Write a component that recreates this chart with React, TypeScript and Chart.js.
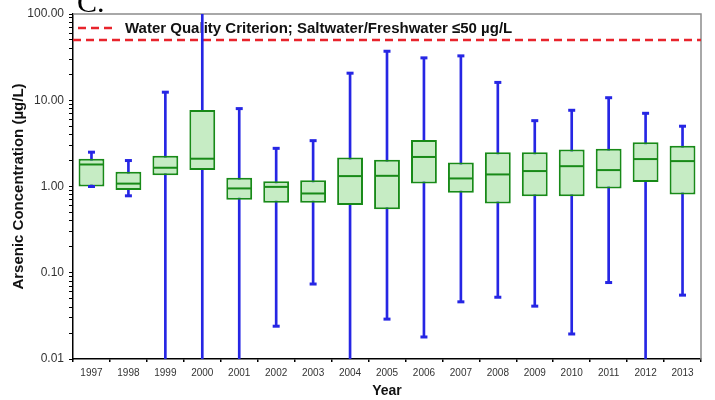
import React, { useEffect, useRef } from 'react';
import { Chart, registerables } from 'chart.js';

Chart.register(...registerables);

// ---- data ----
const years = ['1997', '1998', '1999', '2000', '2001', '2002', '2003', '2004', '2005', '2006', '2007', '2008', '2009', '2010', '2011', '2012', '2013'];
// 0.001 = whisker continues below the axis; 200 = whisker continues above the axis
const whiskerLow = [1.0, 0.78, 0.001, 0.001, 0.001, 0.024, 0.074, 0.001, 0.029, 0.018, 0.046, 0.052, 0.041, 0.0195, 0.077, 0.001, 0.055];
const quartile1 = [1.0, 0.91, 1.35, 1.55, 0.7, 0.65, 0.65, 0.61, 0.545, 1.08, 0.845, 0.634, 0.77, 0.77, 0.95, 1.13, 0.81];
const medians = [1.8, 1.08, 1.65, 2.1, 0.95, 0.99, 0.83, 1.32, 1.33, 2.2, 1.24, 1.38, 1.51, 1.72, 1.55, 2.08, 1.97];
const quartile3 = [2.1, 1.48, 2.27, 7.7, 1.26, 1.15, 1.18, 2.17, 2.04, 3.46, 1.9, 2.49, 2.49, 2.69, 2.74, 3.25, 2.97];
const whiskerHigh = [2.5, 2.0, 12.4, 200, 8.0, 2.77, 3.4, 20.6, 37, 31, 32.7, 16.1, 5.8, 7.65, 10.7, 7.06, 5.0];

const criterionValue = 50;
const criterionLabel = 'Water Quality Criterion; Saltwater/Freshwater ≤50 µg/L';
const yMin = 0.01;
const yMax = 100;
const yMajorTicks = [0.01, 0.1, 1, 10, 100];
const yMinorSteps = [2, 3, 4, 5, 6, 7, 8, 9];
const yTitle = 'Arsenic Concentration (µg/L)';
const xTitle = 'Year';
const panelLabel = 'C.';

// ---- styles ----
const WHISKER = 'rgb(38, 38, 228)';
const BOX_FILL = 'rgb(198, 236, 196)';
const BOX_LINE = 'rgb(24, 138, 24)';
const RED = 'rgb(232, 36, 44)';
const FONT = '"Liberation Sans", Arial, Helvetica, sans-serif';

const lowCaps = whiskerLow.map((v) => (v >= yMin && v <= yMax ? v : null));
const highCaps = whiskerHigh.map((v) => (v >= yMin && v <= yMax ? v : null));

const framePlugin = {
  id: 'frameAndLegend',
  beforeDatasetsDraw(chart: any) {
    const { ctx, chartArea: a } = chart;
    ctx.save();
    // top and right frame
    ctx.strokeStyle = '#8c8c8c';
    ctx.lineWidth = 1.5;
    ctx.beginPath();
    ctx.moveTo(a.left, a.top);
    ctx.lineTo(a.right, a.top);
    ctx.lineTo(a.right, a.bottom);
    ctx.stroke();

    // legend inside the plot area
    const ds = chart.data.datasets.find((d: any) => d.label === criterionLabel);
    const ly = a.top + 14;
    ctx.strokeStyle = ds.borderColor;
    ctx.lineWidth = ds.borderWidth;
    ctx.setLineDash(ds.borderDash);
    ctx.beginPath();
    ctx.moveTo(a.left + 5, ly);
    ctx.lineTo(a.left + 44, ly);
    ctx.stroke();
    ctx.setLineDash([]);
    ctx.fillStyle = '#111';
    ctx.font = `bold 15px ${FONT}`;
    ctx.textBaseline = 'middle';
    ctx.textAlign = 'left';
    ctx.fillText(ds.label, a.left + 52, ly + 0.5);
    ctx.restore();
  },
  afterDraw(chart: any) {
    const { ctx } = chart;
    ctx.save();
    ctx.fillStyle = '#000';
    ctx.font = '30px "Liberation Serif", "Times New Roman", serif';
    ctx.textBaseline = 'alphabetic';
    ctx.textAlign = 'left';
    ctx.fillText(panelLabel, 77, 12);
    ctx.restore();
  },
};

export default function App() {
  const ref = useRef<HTMLCanvasElement>(null);

  useEffect(() => {
    const canvas = ref.current;
    if (!canvas) return;
    Chart.defaults.font.family = FONT;

    const chart = new Chart(canvas, {
      type: 'bar',
      data: {
        labels: years,
        datasets: [
          {
            type: 'line',
            label: criterionLabel,
            xAxisID: 'xc',
            data: [
              { x: 0, y: criterionValue },
              { x: 1, y: criterionValue },
            ],
            borderColor: RED,
            borderWidth: 2.5,
            borderDash: [8, 5],
            pointRadius: 0,
            fill: false,
            order: 6,
            clip: 0,
          } as any,
          {
            type: 'bar',
            label: 'Whisker',
            data: years.map((_, i) => [whiskerLow[i], whiskerHigh[i]]),
            backgroundColor: WHISKER,
            borderWidth: 0,
            barThickness: 2,
            grouped: false,
            order: 5,
            clip: 0,
          } as any,
          {
            type: 'bar',
            label: 'Interquartile range',
            data: years.map((_, i) => [quartile1[i], quartile3[i]]),
            backgroundColor: BOX_FILL,
            borderColor: BOX_LINE,
            borderWidth: 2,
            borderSkipped: false,
            barPercentage: 0.7,
            categoryPercentage: 1,
            grouped: false,
            order: 4,
            clip: 0,
          } as any,
          {
            type: 'line',
            label: 'Median',
            data: medians,
            showLine: false,
            pointStyle: 'line',
            pointRadius: 12,
            pointBorderWidth: 2,
            pointBorderColor: BOX_LINE,
            borderColor: BOX_LINE,
            order: 3,
          } as any,
          {
            type: 'line',
            label: 'Low whisker cap',
            data: lowCaps,
            showLine: false,
            pointStyle: 'line',
            pointRadius: 3.5,
            pointBorderWidth: 3,
            pointBorderColor: WHISKER,
            borderColor: WHISKER,
            order: 2,
          } as any,
          {
            type: 'line',
            label: 'High whisker cap',
            data: highCaps,
            showLine: false,
            pointStyle: 'line',
            pointRadius: 3.5,
            pointBorderWidth: 3,
            pointBorderColor: WHISKER,
            borderColor: WHISKER,
            order: 2,
          } as any,
        ],
      },
      options: {
        responsive: false,
        animation: false,
        devicePixelRatio: 1,
        events: [],
        layout: { padding: { top: 14, right: 9, left: 0, bottom: 0 } },
        plugins: {
          legend: { display: false },
          tooltip: { enabled: false },
        },
        scales: {
          x: {
            type: 'category',
            offset: true,
            grid: {
              offset: true,
              drawOnChartArea: false,
              drawTicks: true,
              tickLength: 3,
              color: '#000',
              lineWidth: 1.5,
            },
            border: { color: '#000', width: 1.5 },
            ticks: {
              font: { size: 10 },
              color: '#333',
              padding: 5,
              maxRotation: 0,
              autoSkip: false,
            },
            title: {
              display: true,
              text: xTitle,
              color: '#111',
              font: { size: 14, weight: 'bold' },
              padding: { top: 0, bottom: 0 },
            },
            afterFit: (s: any) => {
              s.height = 41;
            },
          },
          xc: {
            type: 'linear',
            display: false,
            offset: false,
            min: 0,
            max: 1,
          },
          y: {
            type: 'logarithmic',
            min: yMin,
            max: yMax,
            afterBuildTicks: (s: any) => {
              const t: any[] = [];
              yMajorTicks.forEach((m, i) => {
                t.push({ value: m, major: true });
                if (i < yMajorTicks.length - 1) yMinorSteps.forEach((k) => t.push({ value: m * k, major: false }));
              });
              s.ticks = t;
            },
            grid: {
              drawOnChartArea: false,
              drawTicks: true,
              tickLength: 4,
              color: '#000',
              lineWidth: 1,
            },
            border: { color: '#000', width: 1.5 },
            ticks: {
              autoSkip: false,
              font: { size: 12 },
              color: '#333',
              padding: 5,
              callback: (value: any) => {
                const v = Number(value);
                return yMajorTicks.some((m) => Math.abs(m - v) < m * 1e-6) ? v.toFixed(2) : '';
              },
            },
            title: {
              display: true,
              text: yTitle,
              color: '#111',
              font: { size: 15, weight: 'bold' },
              padding: { top: 10, bottom: 0 },
            },
            afterFit: (s: any) => {
              s.width = 73;
            },
          },
        },
      } as any,
      plugins: [framePlugin],
    });

    return () => chart.destroy();
  }, []);

  return (
    <div style={{ position: 'absolute', left: 0, top: 0, width: 715, height: 400, background: '#fff', overflow: 'hidden' }}>
      <canvas ref={ref} width={715} height={400} style={{ display: 'block', width: 715, height: 400 }} />
    </div>
  );
}
